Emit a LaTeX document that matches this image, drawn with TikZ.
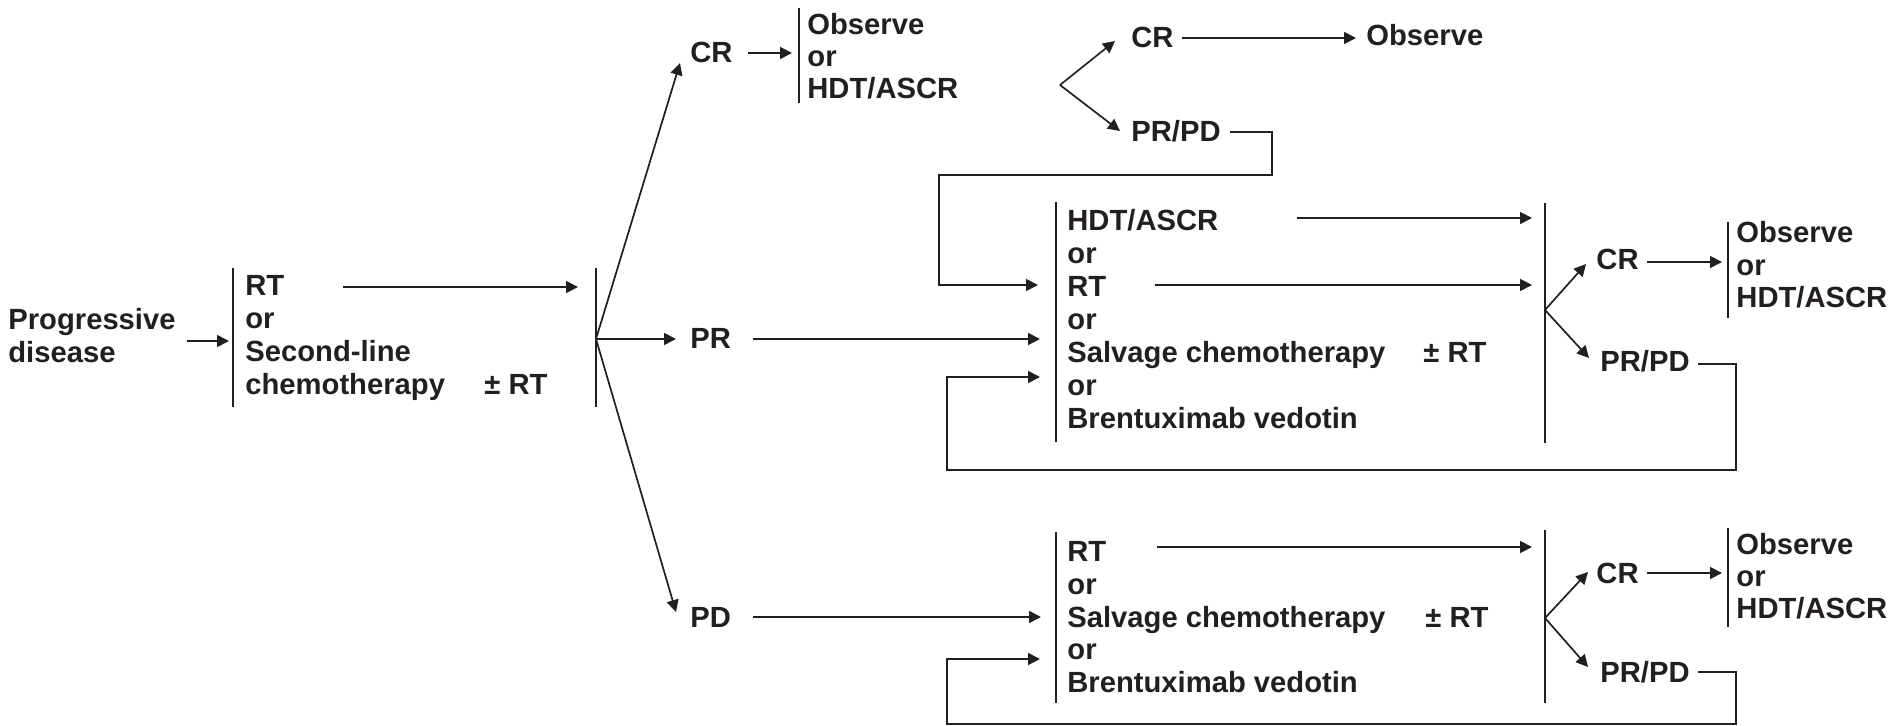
\documentclass[tikz,border=0pt]{standalone}
\usepackage{fontspec}
\setmainfont{Liberation Sans}
\usetikzlibrary{arrows.meta}
\definecolor{ink}{RGB}{35,31,32}
\begin{document}
\begin{tikzpicture}[x=0.5pt,y=-0.5pt,
  txt/.style={anchor=base west,inner sep=0pt,text=ink,font=\bfseries\fontsize{14.6pt}{16.5pt}\selectfont},
  ln/.style={line width=0.85pt,draw=ink},
  arr/.style={ln,-{Triangle[length=6pt,width=6pt]}},
]
\useasboundingbox (0,0) rectangle (1895,726);

% ---------- level 0 ----------
\node[txt] (prog1) at (8,330) {Progressive};
\node[txt] (prog2) at (8,363) {disease};
\coordinate (a1s) at (187,341);
\coordinate (b1t) at (233,268); \coordinate (b1b) at (233,407);
\coordinate (a1e) at (229,341);
\draw[arr] (a1s) -- (a1e);
\draw[ln] (b1t) -- (b1b);
\node[txt] (t1a) at (245,296) {RT};
\node[txt] (t1b) at (245,329) {or};
\node[txt] (t1c) at (245,362) {Second-line};
\node[txt] (t1d) at (245,395) {chemotherapy};
\node[txt] (t1e) at (484,395) {± RT};
\coordinate (rt1s) at (343,287); \coordinate (rt1e) at (578,287);
\draw[arr] (rt1s) -- (rt1e);

% ---------- level 1 fork ----------
\coordinate (b2t) at (596,268); \coordinate (b2b) at (596,407);
\draw[ln] (b2t) -- (b2b);
\coordinate (f1) at (596,339);
\coordinate (f1cr) at (680,63);
\coordinate (f1pr) at (676,339);
\coordinate (f1pd) at (676,612);
\draw[arr] (f1) -- (f1cr);
\draw[arr] (f1) -- (f1pr);
\draw[arr] (f1) -- (f1pd);
\node[txt] (cr1) at (690,63) {CR};
\node[txt] (pr1) at (690,349) {PR};
\node[txt] (pd1) at (690,627) {PD};

% ---------- CR branch (top) ----------
\coordinate (cra) at (748,53); \coordinate (crb) at (792,53);
\draw[arr] (cra) -- (crb);
\coordinate (b3t) at (799,8); \coordinate (b3b) at (799,103);
\draw[ln] (b3t) -- (b3b);
\node[txt] (o1a) at (807,35) {Observe};
\node[txt] (o1b) at (807,67) {or};
\node[txt] (o1c) at (807,99) {HDT/ASCR};
\coordinate (f2) at (1060,85);
\coordinate (f2cr) at (1115,41); \coordinate (f2pr) at (1120,131);
\draw[arr] (f2) -- (f2cr);
\draw[arr] (f2) -- (f2pr);
\node[txt] (cr2) at (1131,48) {CR};
\node[txt] (obs2) at (1366,46) {Observe};
\coordinate (cr2a) at (1182,38); \coordinate (cr2b) at (1356,38);
\draw[arr] (cr2a) -- (cr2b);
\node[txt] (prpd2) at (1131,142) {PR/PD};
\coordinate (l2a) at (1230,132); \coordinate (l2b) at (1038,285);
\draw[arr] (l2a) -- (1272,132) -- (1272,175) -- (939,175) -- (939,285) -- (l2b);

% ---------- PR branch (middle) ----------
\coordinate (pra) at (753,339); \coordinate (prb) at (1040,339);
\draw[arr] (pra) -- (prb);
\coordinate (b4t) at (1056,202); \coordinate (b4b) at (1056,442);
\draw[ln] (b4t) -- (b4b);
\node[txt] (m1) at (1067,231) {HDT/ASCR};
\node[txt] (m2) at (1067,264) {or};
\node[txt] (m3) at (1067,297) {RT};
\node[txt] (m4) at (1067,330) {or};
\node[txt] (m5) at (1067,363) {Salvage chemotherapy};
\node[txt] (m6) at (1067,396) {or};
\node[txt] (m7) at (1067,429) {Brentuximab vedotin};
\node[txt] (m8) at (1423,363) {± RT};
\coordinate (h1a) at (1297,218); \coordinate (h1b) at (1532,218);
\draw[arr] (h1a) -- (h1b);
\coordinate (r1a) at (1155,285); \coordinate (r1b) at (1532,285);
\draw[arr] (r1a) -- (r1b);
\coordinate (b5t) at (1545,203); \coordinate (b5b) at (1545,443);
\draw[ln] (b5t) -- (b5b);
\coordinate (f3) at (1545,310);
\coordinate (f3cr) at (1586,264); \coordinate (f3pr) at (1589,358);
\draw[arr] (f3) -- (f3cr);
\draw[arr] (f3) -- (f3pr);
\node[txt] (cr3) at (1596,270) {CR};
\coordinate (cr3a) at (1647,262); \coordinate (cr3b) at (1722,262);
\draw[arr] (cr3a) -- (cr3b);
\coordinate (b6t) at (1728,222); \coordinate (b6b) at (1728,318);
\draw[ln] (b6t) -- (b6b);
\node[txt] (o3a) at (1736,243) {Observe};
\node[txt] (o3b) at (1736,276) {or};
\node[txt] (o3c) at (1736,308) {HDT/ASCR};
\node[txt] (prpd3) at (1600,372) {PR/PD};
\coordinate (l3a) at (1698,364); \coordinate (l3b) at (1040,377);
\draw[arr] (l3a) -- (1736,364) -- (1736,470) -- (947,470) -- (947,377) -- (l3b);

% ---------- PD branch (bottom) ----------
\coordinate (pda) at (753,617); \coordinate (pdb) at (1041,617);
\draw[arr] (pda) -- (pdb);
\coordinate (b7t) at (1056,532); \coordinate (b7b) at (1056,703);
\draw[ln] (b7t) -- (b7b);
\node[txt] (n1) at (1067,562) {RT};
\node[txt] (n2) at (1067,594.5) {or};
\node[txt] (n3) at (1067,627) {Salvage chemotherapy};
\node[txt] (n4) at (1067,659.5) {or};
\node[txt] (n5) at (1067,692) {Brentuximab vedotin};
\node[txt] (n6) at (1425,627) {± RT};
\coordinate (r2a) at (1157,547); \coordinate (r2b) at (1532,547);
\draw[arr] (r2a) -- (r2b);
\coordinate (b8t) at (1545,530); \coordinate (b8b) at (1545,703);
\draw[ln] (b8t) -- (b8b);
\coordinate (f4) at (1545,618);
\coordinate (f4cr) at (1588,572); \coordinate (f4pr) at (1588,667);
\draw[arr] (f4) -- (f4cr);
\draw[arr] (f4) -- (f4pr);
\node[txt] (cr4) at (1596,583) {CR};
\coordinate (cr4a) at (1647,573); \coordinate (cr4b) at (1722,573);
\draw[arr] (cr4a) -- (cr4b);
\coordinate (b9t) at (1728,528); \coordinate (b9b) at (1728,627);
\draw[ln] (b9t) -- (b9b);
\node[txt] (o4a) at (1736,555) {Observe};
\node[txt] (o4b) at (1736,587) {or};
\node[txt] (o4c) at (1736,618) {HDT/ASCR};
\node[txt] (prpd4) at (1600,682) {PR/PD};
\coordinate (l4a) at (1698,672); \coordinate (l4b) at (1040,659);
\draw[arr] (l4a) -- (1736,672) -- (1736,724) -- (947,724) -- (947,659) -- (l4b);
\end{tikzpicture}
\end{document}
